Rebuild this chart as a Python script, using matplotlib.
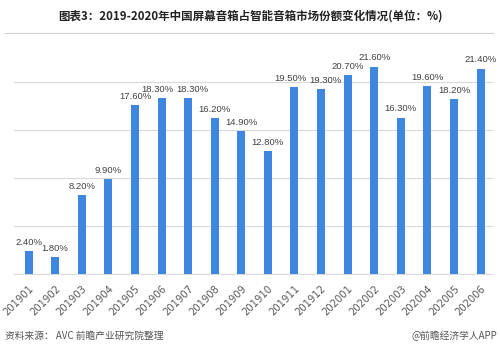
import matplotlib.pyplot as plt
from matplotlib.lines import Line2D

plt.rcParams['font.family'] = ['Noto Sans CJK SC', 'DejaVu Sans']

months = ["201901", "201902", "201903", "201904", "201905", "201906",
          "201907", "201908", "201909", "201910", "201911", "201912",
          "202001", "202002", "202003", "202004", "202005", "202006"]
share = [2.4, 1.8, 8.2, 9.9, 17.6, 18.3, 18.3, 16.2, 14.9, 12.8,
         19.5, 19.3, 20.7, 21.6, 16.3, 19.6, 18.2, 21.4]

title = "图表3：2019-2020年中国屏幕音箱占智能音箱市场份额变化情况(单位：%)"
source = "资料来源： AVC 前瞻产业研究院整理"
brand = "@前瞻经济学人APP"

fig = plt.figure(figsize=(5, 3.5), dpi=100)
ax = fig.add_axes([0.028, 0.217, 0.957, 0.686])

x = range(len(months))
ax.bar(x, share, width=0.3, color="#3f86e0", zorder=3)

# small horizontal nudges (points) so neighbouring labels don't collide
nudge = {5: -3, 6: 3, 10: -3, 11: 3}
for i, v in enumerate(share):
    ax.annotate(f"{v:.2f}%", (i, v), xytext=(nudge.get(i, 0), 3),
                textcoords="offset points", ha="center", va="bottom",
                fontsize=6.8, color="#404040", family=['Liberation Sans'])

ax.set_xlim(-0.55, 17.45)
ax.set_ylim(0, 25)
ax.set_yticks([0, 5, 10, 15, 20])
ax.yaxis.grid(True, color="#d9d9d9", linewidth=0.8, zorder=0)
ax.tick_params(left=False, labelleft=False, bottom=False)
ax.set_xticks(list(x))
ax.set_xticklabels(months, rotation=45, ha="right", rotation_mode="anchor",
                   fontsize=7.2, color="#595959", family=['DejaVu Sans'])
for s in ["top", "right", "left"]:
    ax.spines[s].set_visible(False)
ax.spines["bottom"].set_color("#d9d9d9")

fig.text(0.5, 0.955, title, ha="center", va="center", fontsize=8.3,
         fontweight="bold", color="#222222")
fig.add_artist(Line2D([0.01, 0.985], [0.905, 0.905], color="#d0d0d0",
                      linewidth=0.8, transform=fig.transFigure))
fig.text(0.01, 0.04, source, ha="left", va="center", fontsize=7, color="#555555")
fig.text(0.995, 0.04, brand, ha="right", va="center", fontsize=7, color="#555555")

fig.savefig("out.png", dpi=100)
